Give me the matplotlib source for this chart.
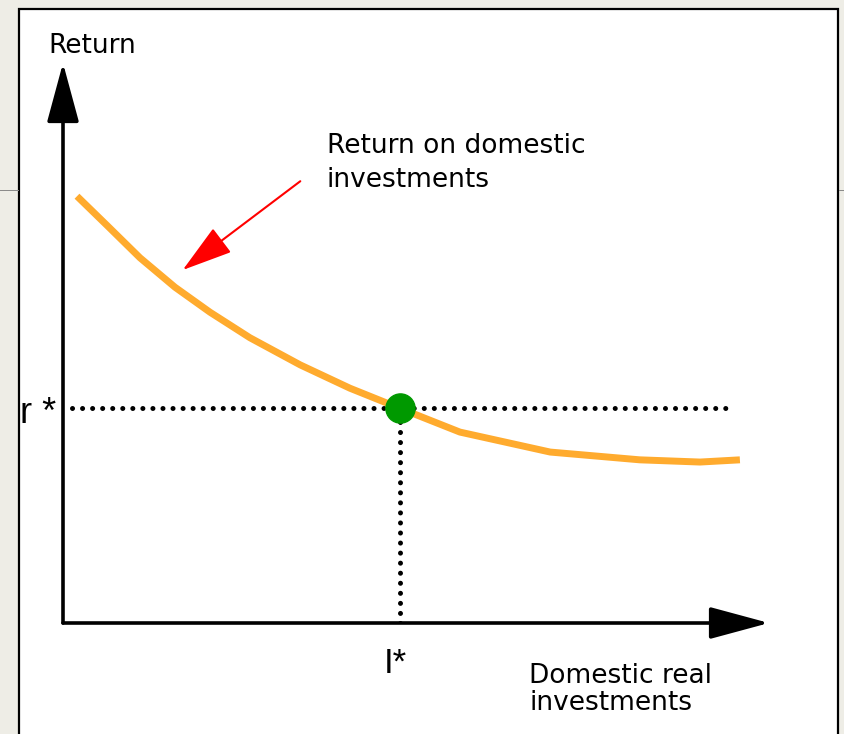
import matplotlib.pyplot as plt
from matplotlib.patches import Rectangle
from matplotlib.lines import Line2D

# investment demand curve: return falls as domestic investment grows
invest = [2.0, 6.4, 11.0, 16.0, 21.0, 26.7, 33.9, 41.0, 48.1, 56.7, 69.6, 82.4, 91.0, 96.7]
ret = [76.9, 71.5, 65.8, 60.5, 56.0, 51.4, 46.5, 42.3, 38.7, 34.4, 30.8, 29.4, 29.0, 29.4]

# equilibrium
i_star = 48.1
r_star = 38.7

W, H = 844, 734
fig = plt.figure(figsize=(W / 100, H / 100), dpi=100, facecolor='#eeede6')

# white slide panel with black frame
fig.add_artist(Rectangle((18.5 / W, -0.02), (838 - 18.5) / W, 1.02 - 9 / H,
                         transform=fig.transFigure, facecolor='white',
                         edgecolor='black', lw=1.6, zorder=0))
fig.add_artist(Line2D([0, 18 / W], [1 - 190 / H] * 2, transform=fig.transFigure,
                      color='#888888', lw=0.7))
fig.add_artist(Line2D([839 / W, 1], [1 - 190 / H] * 2, transform=fig.transFigure,
                      color='#888888', lw=0.7))

ax = fig.add_axes([63 / W, (H - 623) / H, 700 / W, 555 / H])
ax.set_xlim(0, 100)
ax.set_ylim(0, 100)
ax.axis('off')
ax.patch.set_alpha(0)

# axes with big arrow heads (tips pushed out to the axes edge)
head = dict(arrowstyle='-|>,head_length=1.0,head_width=0.27', mutation_scale=37,
            lw=2.6, color='black', shrinkA=0, shrinkB=0)
ax.annotate('', xy=(0, 100.9), xytext=(0, 0), arrowprops=head, annotation_clip=False)
ax.annotate('', xy=(100.86, 0), xytext=(0, 0), arrowprops=head, annotation_clip=False)

# dotted guides to the equilibrium
dots = dict(color='black', lw=3.6, linestyle=(0, (0.01, 2.0)), dash_capstyle='round')
ax.plot([1.3, 95.7], [r_star, r_star], **dots)
ax.plot([i_star, i_star], [0, r_star], **dots)

ax.plot(invest, ret, color='#ffab2e', lw=5.0, solid_capstyle='butt',
        solid_joinstyle='round', zorder=3)
ax.plot([i_star], [r_star], 'o', color='#009900', ms=21, zorder=4)

# red pointer to the curve
ax.annotate('', xy=(17.1, 63.6), xytext=(33.9, 79.6),
            arrowprops=dict(arrowstyle='-|>,head_length=1.0,head_width=0.3',
                            mutation_scale=32, lw=1.5, color='red',
                            shrinkA=0, shrinkB=0))

txt = dict(family='DejaVu Sans', fontsize=19, color='black')
ax.text(-2.14, 102.7, 'Return', va='baseline', **txt)
ax.text(37.7, 78.6, 'Return on domestic\ninvestments', va='baseline',
        linespacing=1.39, **txt)
ax.text(66.6, -15.7, 'Domestic real\ninvestments', va='baseline',
        linespacing=1.05, **txt)

ax.text(-6.1, 36.0, 'r *', family='Liberation Sans', fontsize=26, va='baseline')
ax.text(45.8, -9.0, 'I*', family='Liberation Sans', fontsize=25, va='baseline')

fig.savefig('out.png', dpi=100, facecolor=fig.get_facecolor())
